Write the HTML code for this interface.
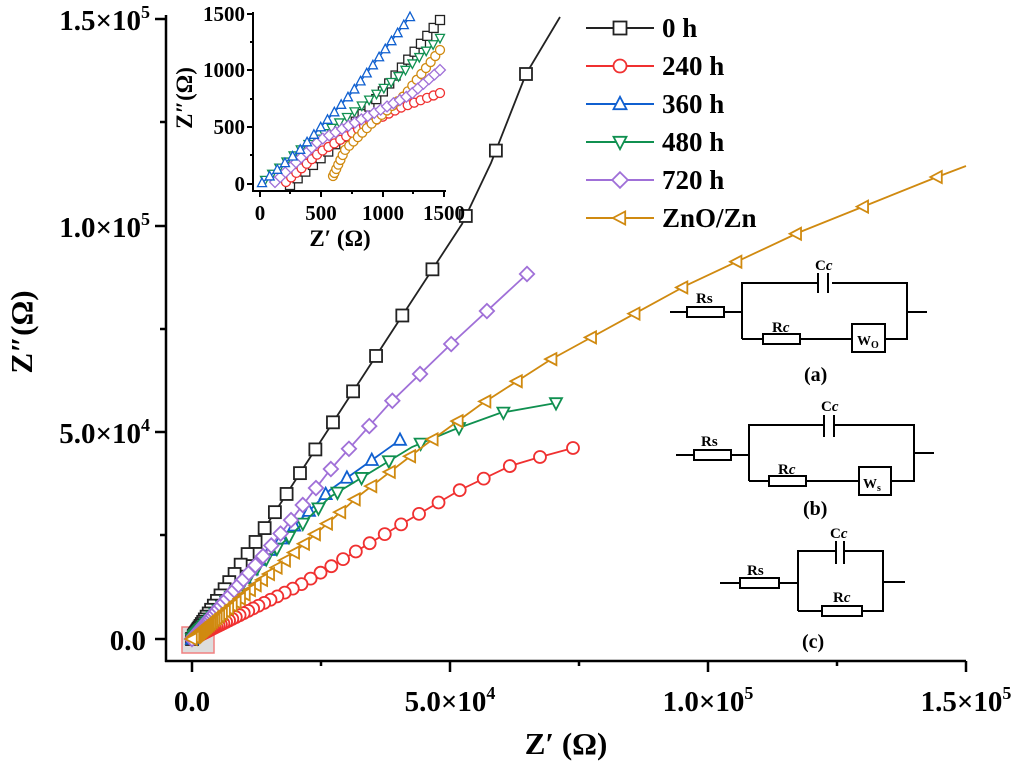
<!DOCTYPE html>
<html><head><meta charset="utf-8"><style>
html,body{margin:0;padding:0;background:#fff;width:1018px;height:761px;overflow:hidden}
svg{display:block;font-family:"Liberation Serif",serif;font-weight:bold}
</style></head><body>
<svg id="s" width="1018" height="761" viewBox="0 0 1018 761" xmlns="http://www.w3.org/2000/svg">
<g stroke="#000" stroke-width="2.5" fill="none">
<line x1="166" y1="15" x2="166" y2="662"/>
<line x1="165" y1="661" x2="966" y2="661"/>
<line x1="155" y1="19" x2="166" y2="19"/><line x1="155" y1="226" x2="166" y2="226"/>
<line x1="155" y1="432" x2="166" y2="432"/><line x1="155" y1="639" x2="166" y2="639"/>
<line x1="160" y1="122" x2="166" y2="122"/><line x1="160" y1="329" x2="166" y2="329"/><line x1="160" y1="535" x2="166" y2="535"/>
<line x1="192" y1="661" x2="192" y2="672"/><line x1="450" y1="661" x2="450" y2="672"/>
<line x1="708" y1="661" x2="708" y2="672"/><line x1="966" y1="661" x2="966" y2="672"/>
<line x1="321" y1="661" x2="321" y2="666"/><line x1="579" y1="661" x2="579" y2="666"/><line x1="837" y1="661" x2="837" y2="666"/>
</g>
<g font-size="29" text-anchor="end">
<text x="150" y="30">1.5×10<tspan font-size="18" dy="-12">5</tspan></text>
<text x="150" y="237">1.0×10<tspan font-size="18" dy="-12">5</tspan></text>
<text x="150" y="443">5.0×10<tspan font-size="18" dy="-12">4</tspan></text>
<text x="146" y="650">0.0</text>
</g>
<g font-size="29" text-anchor="middle">
<text x="192" y="711">0.0</text>
<text x="450" y="711">5.0×10<tspan font-size="18" dy="-12">4</tspan></text>
<text x="708" y="711">1.0×10<tspan font-size="18" dy="-12">5</tspan></text>
<text x="966" y="711">1.5×10<tspan font-size="18" dy="-12">5</tspan></text>
<text x="566" y="754" font-size="31">Z′ (Ω)</text>
<text transform="translate(32,332) rotate(-90)" font-size="31">Z″(Ω)</text>
</g>
<rect x="182" y="627" width="32" height="26" fill="#ddd" stroke="#f08080" stroke-width="1.5"/>
<g id="main"></g>
<!-- inset -->
<g stroke="#000" stroke-width="2" fill="none">
<line x1="253" y1="12" x2="253" y2="192"/>
<line x1="252" y1="191" x2="446" y2="191"/>
<line x1="247" y1="14" x2="253" y2="14"/><line x1="247" y1="70" x2="253" y2="70"/>
<line x1="247" y1="127" x2="253" y2="127"/><line x1="247" y1="184" x2="253" y2="184"/>
<line x1="250" y1="42" x2="253" y2="42"/><line x1="250" y1="99" x2="253" y2="99"/><line x1="250" y1="155" x2="253" y2="155"/>
<line x1="260" y1="191" x2="260" y2="197"/><line x1="321" y1="191" x2="321" y2="197"/>
<line x1="383" y1="191" x2="383" y2="197"/><line x1="444" y1="191" x2="444" y2="197"/>
<line x1="290" y1="191" x2="290" y2="194"/><line x1="352" y1="191" x2="352" y2="194"/><line x1="413" y1="191" x2="413" y2="194"/>
</g>
<g font-size="21" text-anchor="end">
<text x="245" y="21">1500</text><text x="245" y="77">1000</text><text x="245" y="134">500</text><text x="245" y="191">0</text>
</g>
<g font-size="21" text-anchor="middle">
<text x="260" y="220">0</text><text x="321" y="220">500</text><text x="383" y="220">1000</text><text x="444" y="220">1500</text>
<text x="340" y="246" font-size="23">Z′ (Ω)</text>
<text transform="translate(192,98) rotate(-90)" font-size="23">Z″(Ω)</text>
</g>
<g id="inset"></g>
<g id="leg"></g>
<g font-size="27">
<text x="662" y="37">0 h</text><text x="662" y="75">240 h</text><text x="662" y="113">360 h</text>
<text x="662" y="151">480 h</text><text x="662" y="189">720 h</text><text x="662" y="227">ZnO/Zn</text>
</g>
<!-- circuits -->
<g stroke="#000" stroke-width="2" fill="none">
<line x1="670" y1="312" x2="687" y2="312"/><rect x="687" y="307" width="37" height="10"/><line x1="724" y1="312" x2="742" y2="312"/>
<polyline points="742,339 742,283 818,283"/><polyline points="832,283 907,283 907,339 885,339"/>
<line x1="818" y1="273" x2="818" y2="293"/><line x1="828" y1="273" x2="828" y2="293"/>
<line x1="742" y1="339" x2="763" y2="339"/><rect x="763" y="334" width="37" height="10"/>
<line x1="800" y1="339" x2="852" y2="339"/><rect x="852" y="324" width="33" height="28"/>
<line x1="907" y1="312" x2="927" y2="312"/>
<line x1="676" y1="455" x2="694" y2="455"/><rect x="694" y="450" width="37" height="10"/><line x1="731" y1="455" x2="749" y2="455"/>
<polyline points="749,481 749,425 824,425"/><polyline points="834,425 914,425 914,481 891,481"/>
<line x1="824" y1="415" x2="824" y2="437"/><line x1="834" y1="415" x2="834" y2="437"/>
<line x1="749" y1="481" x2="769" y2="481"/><rect x="769" y="476" width="37" height="10"/>
<line x1="806" y1="481" x2="859" y2="481"/><rect x="859" y="467" width="32" height="28"/>
<line x1="914" y1="453" x2="934" y2="453"/>
<line x1="720" y1="583" x2="740" y2="583"/><rect x="740" y="578" width="39" height="10"/><line x1="779" y1="583" x2="798" y2="583"/>
<polyline points="798,611 798,551 836,551"/><polyline points="844,551 883,551 883,611 862,611"/>
<line x1="836" y1="541" x2="836" y2="564"/><line x1="844" y1="541" x2="844" y2="564"/>
<line x1="798" y1="611" x2="822" y2="611"/><rect x="822" y="606" width="40" height="10"/>
<line x1="883" y1="582" x2="905" y2="582"/>
</g>
<g font-size="15">
<text x="815" y="270">C<tspan font-style="italic">c</tspan></text>
<text x="696" y="303">Rs</text><text x="772" y="332">R<tspan font-style="italic">c</tspan></text>
<text x="857" y="345" font-size="14">W<tspan font-size="10" dy="3">O</tspan></text>
<text x="804" y="381" font-size="20">(a)</text>
<text x="821" y="411">C<tspan font-style="italic">c</tspan></text>
<text x="701" y="446">Rs</text><text x="778" y="474">R<tspan font-style="italic">c</tspan></text>
<text x="863" y="488" font-size="14">W<tspan font-size="10" dy="3">s</tspan></text>
<text x="803" y="515" font-size="20">(b)</text>
<text x="830" y="538">C<tspan font-style="italic">c</tspan></text>
<text x="747" y="575">Rs</text><text x="833" y="602">R<tspan font-style="italic">c</tspan></text>
<text x="802" y="648" font-size="20">(c)</text>
</g>
</svg>
<script>
const NS="http://www.w3.org/2000/svg";
function el(p,t,a){const e=document.createElementNS(NS,t);for(const k in a)e.setAttribute(k,a[k]);p.appendChild(e);return e;}
function marker(g,type,x,y,r,c,sw){
 const a={fill:"#fff",stroke:c,"stroke-width":sw};
 if(type=="sq")el(g,"rect",Object.assign({x:x-r,y:y-r,width:2*r,height:2*r},a));
 else if(type=="ci")el(g,"circle",Object.assign({cx:x,cy:y,r:r},a));
 else{let p;
  if(type=="up")p=[[0,-r*1.1],[r,r*0.8],[-r,r*0.8]];
  if(type=="dn")p=[[0,r*1.1],[r,-r*0.8],[-r,-r*0.8]];
  if(type=="lt")p=[[-r*1.1,0],[r*0.8,-r],[r*0.8,r]];
  if(type=="di")p=[[0,-r*1.2],[r*1.2,0],[0,r*1.2],[-r*1.2,0]];
  el(g,"polygon",Object.assign({points:p.map(q=>(x+q[0])+","+(y+q[1])).join(" ")},a));}
}
function build(pts){const seg=[];let L=0;for(let i=1;i<pts.length;i++){const d=Math.hypot(pts[i][0]-pts[i-1][0],pts[i][1]-pts[i-1][1]);seg.push(d);L+=d;}return [seg,L];}
function at(pts,seg,s){let i=0;while(i<seg.length-1&&s>seg[i]){s-=seg[i];i++;}const t=Math.min(1,s/seg[i]);return [pts[i][0]+(pts[i+1][0]-pts[i][0])*t,pts[i][1]+(pts[i+1][1]-pts[i][1])*t];}
function series(g,pts,type,c,opt,r,sw,lineExtra){
 el(g,"polyline",{points:pts.concat(lineExtra||[]).map(p=>p.join(",")).join(" "),fill:"none",stroke:c,"stroke-width":sw});
 const [seg,L]=build(pts);const ss=[];
 if(opt.q){let s=L;while(s>opt.min){ss.push(s);s*=opt.q;}ss.push(0);}
 else{for(let k=0;k<=opt.n;k++)ss.push(L*Math.pow(k/opt.n,opt.pw));}
 ss.forEach(s=>{const p=at(pts,seg,s);marker(g,type,p[0],p[1],r,c,sw);});
}
const M=document.getElementById("main");
series(M,[[192,639],[266,526],[302,470],[352,393],[402,316],[462,224],[491,163],[526,74]],"sq","#222",{q:0.875,min:3},6,1.8,[[560,17]]);
series(M,[[192,639],[300,585],[400,525],[460,490],[510,466],[540,457],[573,448]],"ci","#f03030",{q:0.92,min:3},6,1.8);
series(M,[[192,639],[260,560],[330,490],[400,440]],"up","#1060d0",{q:0.88,min:3},6,1.8);
series(M,[[192,639],[260,565],[330,497],[412,447],[453,430],[500,413],[556,403]],"dn","#109050",{q:0.88,min:3},6,1.8);
series(M,[[192,639],[260,560],[330,470],[389,404],[448,347],[527,274]],"di","#a070d8",{q:0.89,min:3},6,1.8);
series(M,[[192,639],[280,565],[360,495],[425,445],[480,405],[550,360],[592,337],[687,285],[800,232],[937,177]],"lt","#d08a10",{q:0.91,min:3},6,1.8,[[966,166]]);
const I=document.getElementById("inset");
series(I,[[290,185],[330,150],[380,95],[440,20]],"sq","#222",{n:22,pw:1},4.5,1.3);
series(I,[[286,182],[320,152],[360,128],[400,108],[440,93]],"ci","#f03030",{n:26,pw:1},4.5,1.3);
series(I,[[333,176],[345,150],[370,125],[405,95],[440,50]],"ci","#d08a10",{n:26,pw:1.2},4.5,1.3);
series(I,[[265,180],[300,150],[350,115],[400,75],[440,38]],"dn","#109050",{n:24,pw:1},4.5,1.3);
series(I,[[275,182],[320,140],[370,115],[410,95],[440,70]],"di","#a070d8",{n:28,pw:1},4.5,1.3);
series(I,[[262,183],[300,150],[350,95],[410,17]],"up","#1060d0",{n:22,pw:1},4.5,1.3);
const G=document.getElementById("leg");
[["sq","#222"],["ci","#f03030"],["up","#1060d0"],["dn","#109050"],["di","#a070d8"],["lt","#d08a10"]].forEach((d,i)=>{
 const y=28+i*38;el(G,"line",{x1:586,y1:y,x2:654,y2:y,stroke:d[1],"stroke-width":2});marker(G,d[0],620,y,6.5,d[1],1.8);});
</script>
</body></html>
